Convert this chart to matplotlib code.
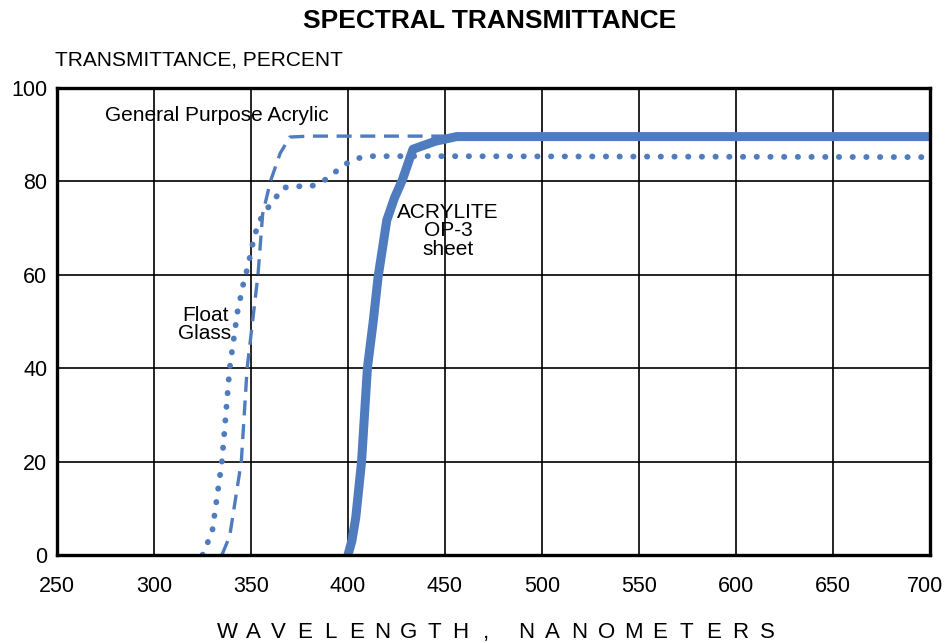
import matplotlib
matplotlib.use("Agg")
import matplotlib.pyplot as plt
import matplotlib.transforms as mtransforms

plt.rcParams['font.family'] = ['Liberation Sans', 'DejaVu Sans']

# float glass (dotted)
glass_wl = [325, 330, 335, 339, 343, 346, 348.5, 350.5, 353.6, 358, 362, 366, 373, 380, 386.6, 391.8, 397, 403.6, 410, 450, 700]
glass_t = [0, 5, 20, 40, 52, 58, 62, 66, 71, 74, 76, 78.6, 79, 78.8, 79.9, 81.4, 83.3, 84.8, 85.4, 85.4, 85.2]

# general purpose acrylic (dashed)
acryl_wl = [335, 339, 345, 348, 353.6, 356, 360, 365, 370, 380, 450]
acryl_t = [0, 4, 20, 40, 60, 73, 80, 86, 89.5, 89.7, 89.7]

# ACRYLITE OP-3 (solid)
op3_wl = [400, 402, 404, 407, 410, 413, 415.5, 420, 424, 428, 433.5, 445, 456, 700]
op3_t = [0, 3, 8, 20, 40, 50, 59.5, 71.7, 76.5, 80.3, 86.9, 88.6, 89.6, 89.6]

xticks = [250, 300, 350, 400, 450, 500, 550, 600, 650, 700]
yticks = [0, 20, 40, 60, 80, 100]

blue = '#4f7bbf'

fig = plt.figure(figsize=(9.46, 6.43), dpi=100)
ax = fig.add_axes([0.0603, 0.137, 0.9227, 0.7261])

ax.plot(glass_wl, glass_t, color=blue, lw=4.2, linestyle=(0, (0.05, 2.3)),
        dash_capstyle='round')
ax.plot(acryl_wl, acryl_t, color=blue, lw=2.4, linestyle=(0, (4.5, 2.6)))
ax.plot(op3_wl, op3_t, color=blue, lw=6.5, solid_capstyle='butt', solid_joinstyle='round')

ax.set_xlim(250, 700)
ax.set_ylim(0, 100)
ax.set_xticks(xticks)
ax.set_yticks(yticks)
ax.tick_params(length=0, labelsize=15.5)
ax.tick_params(axis='x', pad=15)
ax.tick_params(axis='y', pad=7)
ax.grid(True, color='black', lw=1.2)
for s in ax.spines.values():
    s.set_linewidth(2.4)

# nudge the "700" label so it stays inside the picture
last = ax.get_xticklabels()[-1]
last.set_transform(last.get_transform() + mtransforms.ScaledTranslation(-5 / 100, 0, fig.dpi_scale_trans))

ax.text(274.7, 94.2, 'General Purpose Acrylic', fontsize=15, va='center', ha='left')
ax.text(451.5, 69.4, 'ACRYLITE\nOP-3\nsheet', fontsize=15, ha='center', va='center',
        linespacing=0.95)
ax.text(326.3, 49.3, 'Float\nGlass', fontsize=15, ha='center', va='center', linespacing=0.95)

fig.text(0.518, 0.968, 'SPECTRAL TRANSMITTANCE', fontsize=19, fontweight='bold',
         ha='center', va='center')
fig.text(0.058, 0.907, 'TRANSMITTANCE, PERCENT', fontsize=15, ha='left', va='center')

# widely letter-spaced x label, one character at a time
xlabel = 'WAVELENGTH, NANOMETERS'
x = 227
pitch = 25.9
for ch in xlabel:
    if ch != ' ':
        fig.text(x / 946, 0.017, ch, fontsize=16, ha='center', va='center')
    if ch == ' ':
        pitch = 26.8
    x += 20 if ch in ', ' else pitch

fig.savefig('out.png', dpi=100)
